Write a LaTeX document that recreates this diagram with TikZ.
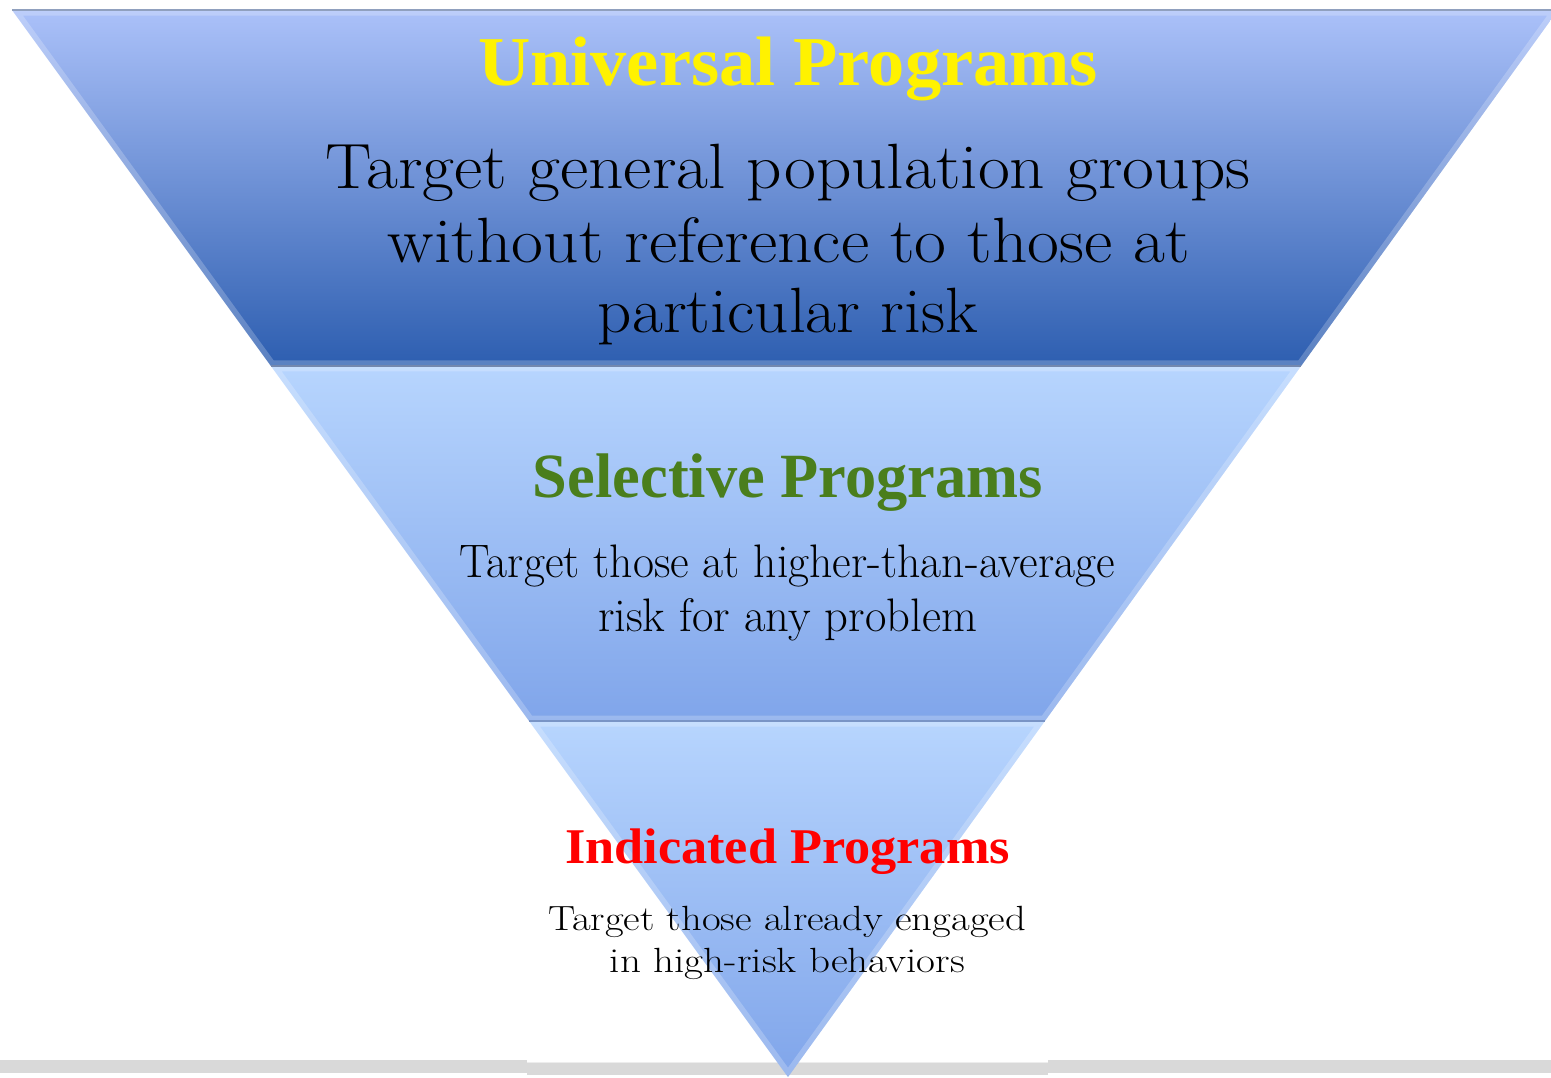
\documentclass[tikz,border=0pt]{standalone}
\usepackage{fontspec}
\usepackage{graphicx}
\newfontfamily\headfont{Liberation Serif}
\usetikzlibrary{calc}

% stretch a line of text to a given width, keeping its height
\newcommand\fitw[2]{\resizebox{#1pt}{\height}{#2}}

\definecolor{topA}{HTML}{ABC1F9}
\definecolor{topM}{HTML}{8EA7E6}
\definecolor{topB}{HTML}{2D5EB0}
\definecolor{lowA}{HTML}{B7D5FE}
\definecolor{lowM}{HTML}{9FBFF6}
\definecolor{lowB}{HTML}{80A5EA}
\definecolor{sepgray}{HTML}{7488AE}
\definecolor{bargray}{HTML}{D9D9D9}
\definecolor{selgreen}{HTML}{4A7E1C}

\begin{document}
\begin{tikzpicture}[x=1pt,y=-1pt,
  body/.style={anchor=base, inner sep=0pt, text=black},
  head/.style={anchor=base, inner sep=0pt},
  bevel/.style={line width=11pt, white, opacity=0.22},
  sepline/.style={draw=sepgray, line width=2pt},
]
\useasboundingbox (0,0) rectangle (1551,1077);

% floor bar behind the tip
\fill[bargray] (0,1060) rectangle (527,1073);
\fill[bargray] (1048,1060) rectangle (1551,1073);
\fill[bargray] (527,1062) rectangle (1048,1075);
\draw[white!93!black, line width=1pt] (527,1062) -- (1048,1062);

% corners of the funnel
\coordinate (TL) at (12,10);
\coordinate (TR) at (1558,10);
\coordinate (A) at (788,1077);
\coordinate (L1) at ($(TL)!0.3336!(A)$);
\coordinate (R1) at ($(TR)!0.3336!(A)$);
\coordinate (L2) at ($(TL)!0.6664!(A)$);
\coordinate (R2) at ($(TR)!0.6664!(A)$);

% upper band
\shade[top color=topA, middle color=topM, bottom color=topB]
  (TL) -- (TR) -- (R1) -- (L1) -- cycle;
\begin{scope}
  \clip (TL) -- (TR) -- (R1) -- (L1) -- cycle;
  \draw[bevel] (TL) -- (TR) -- (R1) -- (L1) -- cycle;
\end{scope}

% middle band
\shade[top color=lowA, middle color=lowM, bottom color=lowB]
  (L1) -- (R1) -- (R2) -- (L2) -- cycle;
\begin{scope}
  \clip (L1) -- (R1) -- (R2) -- (L2) -- cycle;
  \draw[bevel] (L1) -- (R1) -- (R2) -- (L2) -- cycle;
\end{scope}

% lower band
\shade[top color=lowA, middle color=lowM, bottom color=lowB]
  (L2) -- (R2) -- (A) -- cycle;
\begin{scope}
  \clip (L2) -- (R2) -- (A) -- cycle;
  \draw[bevel] (L2) -- (R2) -- (A) -- cycle;
\end{scope}

% edges between the bands
\draw[draw=sepgray!80, line width=1.5pt] (TL) -- (TR);
\draw[sepline] (L1) -- (R1);
\draw[sepline, draw=sepgray!60!lowB] (L2) -- (R2);

% universal
\node[head, text=yellow, font=\headfont\bfseries\fontsize{70}{70}\selectfont]
  (utitle) at (788,85) {\fitw{620}{Universal Programs}};
\node[body, font=\fontsize{64}{64}\selectfont]
  (uline1) at (788,188) {\fitw{925}{Target general population groups}};
\node[body, font=\fontsize{64}{64}\selectfont]
  (uline2) at (789,262) {\fitw{802}{without reference to those at}};
\node[body, font=\fontsize{64}{64}\selectfont]
  (uline3) at (788,332) {\fitw{380}{particular risk}};

% selective
\node[head, text=selgreen, font=\headfont\bfseries\fontsize{63}{63}\selectfont]
  (stitle) at (788,497) {\fitw{510}{Selective Programs}};
\node[body, font=\fontsize{47}{47}\selectfont]
  (sline1) at (787.5,577) {\fitw{655}{Target those at higher-than-average}};
\node[body, font=\fontsize{47}{47}\selectfont]
  (sline2) at (787.5,631) {\fitw{379}{risk for any problem}};

% indicated
\node[head, text=red, font=\headfont\bfseries\fontsize{50}{50}\selectfont]
  (ititle) at (787.5,863) {\fitw{445}{Indicated Programs}};
\node[body, font=\fontsize{35}{35}\selectfont]
  (iline1) at (787,930) {\fitw{478}{Target those already engaged}};
\node[body, font=\fontsize{35}{35}\selectfont]
  (iline2) at (787.5,972) {\fitw{355}{in high-risk behaviors}};
\end{tikzpicture}
\end{document}
